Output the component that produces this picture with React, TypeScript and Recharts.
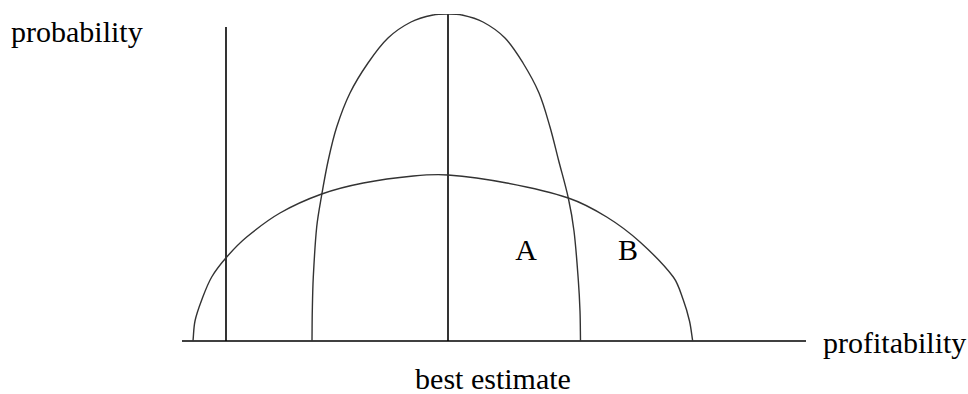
import React from 'react';
import {
  ComposedChart,
  Line,
  XAxis,
  YAxis,
  ReferenceLine,
  ReferenceDot,
} from 'recharts';

// x = profitability offset from the best estimate, p = probability (chart units)
const narrowCurve = [
  { x: -136, p: 0 },
  { x: -135.7, p: 30 },
  { x: -134.7, p: 64 },
  { x: -131.3, p: 114 },
  { x: -126.3, p: 146 },
  { x: -119.7, p: 181 },
  { x: -111.3, p: 214 },
  { x: -98, p: 248 },
  { x: -80, p: 278 },
  { x: -60, p: 303 },
  { x: -37, p: 319 },
  { x: -15, p: 326 },
  { x: 0, p: 327 },
  { x: 14, p: 326 },
  { x: 35, p: 319 },
  { x: 57, p: 303 },
  { x: 75, p: 278 },
  { x: 91, p: 248 },
  { x: 102, p: 214 },
  { x: 110.5, p: 181 },
  { x: 120.3, p: 143 },
  { x: 126, p: 110 },
  { x: 130.3, p: 61 },
  { x: 132, p: 30 },
  { x: 132.5, p: 0 },
];

const wideCurve = [
  { x: -255, p: 0 },
  { x: -253, p: 20 },
  { x: -246.3, p: 41 },
  { x: -236.3, p: 64 },
  { x: -221.3, p: 84 },
  { x: -201.3, p: 104 },
  { x: -168, p: 128 },
  { x: -126.3, p: 147 },
  { x: -84.7, p: 158 },
  { x: -34.7, p: 165 },
  { x: 0, p: 166 },
  { x: 58.7, p: 158 },
  { x: 120.3, p: 143 },
  { x: 158.7, p: 124 },
  { x: 192, p: 99 },
  { x: 225.3, p: 64 },
  { x: 235.3, p: 41 },
  { x: 241.5, p: 20 },
  { x: 244.7, p: 0 },
];

const xDomain = [-266, 358];
const yDomain = [0, 327];

// vertical guide lines: [x, top]
const guideLines = [
  { x: -222, top: 314 },
  { x: 0, top: 327 },
];

// text annotations placed at data coordinates (text baseline)
const annotations = [
  { text: 'probability', x: -437, p: 299, anchor: 'start' },
  { text: 'profitability', x: 375, p: -12, anchor: 'start' },
  { text: 'best estimate', x: 45, p: -48, anchor: 'middle' },
  { text: 'A', x: 78, p: 81, anchor: 'middle' },
  { text: 'B', x: 180, p: 81, anchor: 'middle' },
];

const FONT = '"Liberation Serif", "Times New Roman", serif';

// smooth curve through the points, tangents follow the neighbours in 2D,
// so the feet of the bells can stand vertical on the baseline
function smoothCurve(context: any) {
  let pts: number[][] = [];
  return {
    areaStart() {},
    areaEnd() {},
    lineStart() {
      pts = [];
    },
    point(x: number, y: number) {
      pts.push([+x, +y]);
    },
    lineEnd() {
      const n = pts.length;
      if (n === 0) return;
      context.moveTo(pts[0][0], pts[0][1]);
      if (n === 1) return;
      const tan = pts.map((_, i) => {
        const a = pts[Math.max(0, i - 1)];
        const b = pts[Math.min(n - 1, i + 1)];
        const dx = b[0] - a[0];
        const dy = b[1] - a[1];
        const l = Math.hypot(dx, dy) || 1;
        return [dx / l, dy / l];
      });
      for (let i = 0; i < n - 1; i++) {
        const p = pts[i];
        const q = pts[i + 1];
        const d = Math.hypot(q[0] - p[0], q[1] - p[1]) / 3;
        context.bezierCurveTo(
          p[0] + tan[i][0] * d,
          p[1] + tan[i][1] * d,
          q[0] - tan[i + 1][0] * d,
          q[1] - tan[i + 1][1] * d,
          q[0],
          q[1]
        );
      }
    },
  };
}

function AnnotationText(props: any, text: string, anchor: string) {
  const { viewBox } = props;
  return (
    <text
      x={viewBox.x}
      y={viewBox.y}
      textAnchor={anchor}
      fontFamily={FONT}
      fontSize={30}
      fill="#000"
    >
      {text}
    </text>
  );
}

export default function App() {
  return (
    <div style={{ position: 'absolute', left: 0, top: 0, background: '#fff' }}>
      <ComposedChart
        width={968}
        height={394}
        margin={{ top: 14, right: 162, left: 182, bottom: 53 }}
        style={{ overflow: 'visible' }}
      >
        <XAxis
          type="number"
          dataKey="x"
          domain={xDomain}
          allowDataOverflow
          hide
        />
        <YAxis type="number" domain={yDomain} allowDataOverflow hide />

        {/* baseline (profitability axis) */}
        <ReferenceLine y={0} stroke="#000" strokeWidth={1.6} ifOverflow="visible" />

        {guideLines.map((g) => (
          <ReferenceLine
            key={g.x}
            segment={[
              { x: g.x, y: 0 },
              { x: g.x, y: g.top },
            ]}
            stroke="#000"
            strokeWidth={1.6}
            ifOverflow="visible"
          />
        ))}

        <Line
          data={wideCurve}
          dataKey="p"
          type={smoothCurve as any}
          stroke="#333"
          strokeWidth={1.4}
          dot={false}
          activeDot={false}
          isAnimationActive={false}
        />
        <Line
          data={narrowCurve}
          dataKey="p"
          type={smoothCurve as any}
          stroke="#333"
          strokeWidth={1.4}
          dot={false}
          activeDot={false}
          isAnimationActive={false}
        />

        {annotations.map((a) => (
          <ReferenceDot
            key={a.text}
            x={a.x}
            y={a.p}
            r={0}
            fill="none"
            stroke="none"
            ifOverflow="visible"
            label={{ content: (props: any) => AnnotationText(props, a.text, a.anchor) }}
          />
        ))}
      </ComposedChart>
    </div>
  );
}
